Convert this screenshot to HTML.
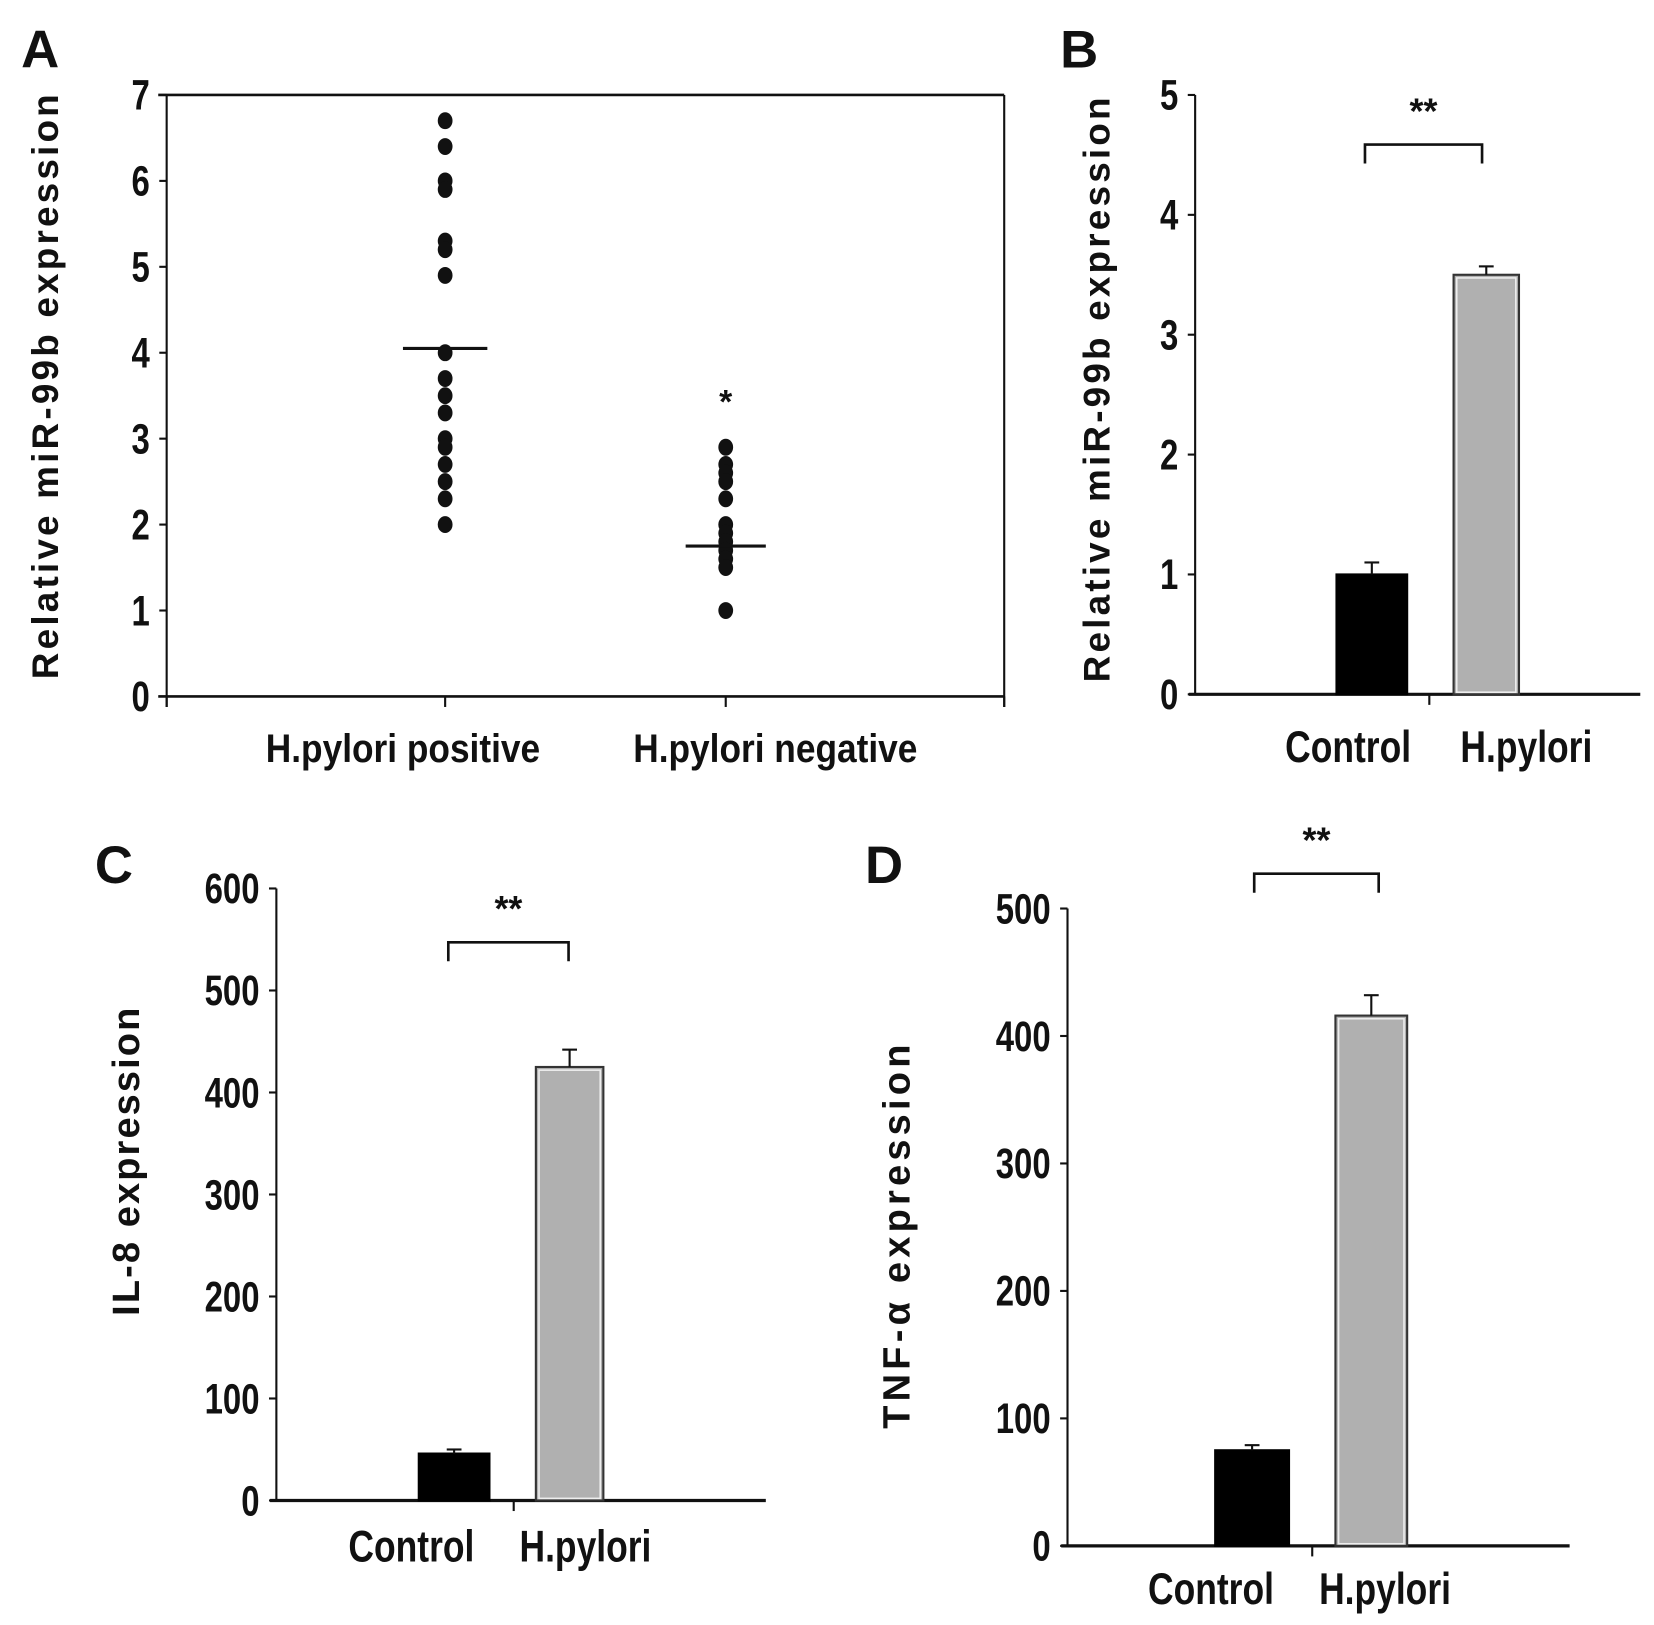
<!DOCTYPE html>
<html><head><meta charset="utf-8"><style>
html,body{margin:0;padding:0;background:#fff}
svg{display:block}
text{font-family:"Liberation Sans",sans-serif;font-weight:bold;fill:#111}
</style></head><body>
<svg id="fig" width="1654" height="1625" viewBox="0 0 1568 1540" preserveAspectRatio="none" xmlns="http://www.w3.org/2000/svg"></svg>
<script>
// Panel A data
const posVals=[6.7,6.4,6.0,5.9,5.3,5.2,4.9,4.0,3.7,3.5,3.3,3.0,2.9,2.7,2.5,2.3,2.0];
const negVals=[2.9,2.7,2.6,2.5,2.3,2.0,1.9,1.8,1.7,1.6,1.5,1.0];
const posMedian=4.05;
const negMedian=1.75;
const aTicks=[0,1,2,3,4,5,6,7];
const aCats=["H.pylori positive","H.pylori negative"];
// Panel B data
const bCats=["Control","H.pylori"];
const bVals=[1.0,3.5];
const bErr=[0.1,0.07];
const bTicks=[0,1,2,3,4,5];
// Panel C data
const cVals=[46,425];
const cErr=[4,17];
const cTicks=[0,100,200,300,400,500,600];
// Panel D data
const dVals=[75,416];
const dErr=[4,16];
const dTicks=[0,100,200,300,400,500];

const svg=document.getElementById('fig');
const NS='http://www.w3.org/2000/svg';
function el(tag,attrs,txt){const e=document.createElementNS(NS,tag);for(const k in attrs)e.setAttribute(k,attrs[k]);if(txt!=null)e.textContent=txt;svg.appendChild(e);return e;}
function line(x1,y1,x2,y2,w){return el('line',{x1,y1,x2,y2,stroke:'#111','stroke-width':w||2});}
function ctext(x,y,size,anchor,txt,sx){return el('text',{x:0,y:0,'font-size':size,'text-anchor':anchor,transform:`translate(${x},${y}) scale(${sx||0.78},1)`},txt);}

function panel(o){
  const y=v=>o.y0-(v-o.vmin)/(o.vmax-o.vmin)*(o.y0-o.ytop);
  const L=el('text',{x:o.lx,y:o.ly,'font-size':50},o.letter);
  
  
  const ya=line(o.x0,o.ytop,o.x0,o.y0+(o.box?10:0));
  
  
  const xa=line(o.x0-(o.box?8:6),o.y0,o.x1,o.y0,o.box?2.5:3);
  
  
  if(o.box){line(o.x0-8,o.ytop,o.x1,o.ytop,2.5);line(o.x1,o.ytop,o.x1,o.y0+10,2);}
  o.ticks.forEach(t=>{
    const yy=y(t);
    line(o.x0-7,yy,o.x0,yy,2);
    const tx=ctext(o.x0-16,yy+14,40,'end',String(t));
    
    
  });
  const yt=el('text',{x:0,y:0,'font-size':o.tfs,'text-anchor':'middle','letter-spacing':o.ls||2,transform:`translate(${o.tx},${o.ty}) rotate(-90)`},o.title);
  
  
  return y;
}

(function(){
  const o={letter:'A',lx:20,ly:64,x0:158,x1:952,y0:660,ytop:90,vmin:0,vmax:7,ticks:aTicks,box:true,title:'Relative miR-99b expression',tx:55,ty:365,tfs:35,ls:3};
  const y=panel(o);
  const cx=[422,688];
  [158,422,688,952].forEach(x=>line(x,660,x,670,2));
  aCats.forEach((c,i)=>{const t=ctext([382,735][i],722,38,'middle',c,0.88);
    
    });
  [posVals,negVals].forEach((arr,i)=>arr.forEach(v=>{
    const d=el('ellipse',{cx:cx[i],cy:y(v),rx:7,ry:8,fill:'#111'});
    
    
  }));
  const m1=line(382,y(posMedian),462,y(posMedian),3);
  
  
  const m2=line(650,y(negMedian),726,y(negMedian),3);
  
  
  const s=el('text',{x:688,y:y(3.3),'font-size':32,'text-anchor':'middle'},'*');
  
  
})();

function barPanel(o,vals,errs,cats){
  const y=panel(o);
  line(o.tick,o.y0,o.tick,o.y0+10,2);
  const cols=['#000','#b0b0b0'];
  vals.forEach((v,i)=>{
    const [xa,xb]=o.bars[i];
    const r=el('rect',{x:xa,y:y(v),width:xb-xa,height:o.y0-y(v),fill:cols[i],stroke:i?'#333':'#000','stroke-width':2});
    
    
    if(i){const w=el('rect',{x:xa+3,y:y(v)+3,width:xb-xa-6,height:o.y0-y(v)-5,fill:'none',stroke:'#eee','stroke-width':1.5});
      
      }
    const mx=(xa+xb)/2;
    const e=line(mx,y(v),mx,y(v+errs[i]),2);
    
    
    line(mx-7,y(v+errs[i]),mx+7,y(v+errs[i]),2);
    const t=ctext(o.labx[i],o.laby,42,'middle',cats[i],0.8);
    
    
  });
  const [bx1,bx2,by]=o.bracket;
  const p=el('path',{d:`M${bx1} ${by+18}V${by}H${bx2}V${by+18}`,fill:'none',stroke:'#111','stroke-width':2.5});
  
  
  const s=el('text',{x:(bx1+bx2)/2,y:by-20,'font-size':34,'text-anchor':'middle'},'**');
  
  
}

barPanel({letter:'B',lx:1005,ly:64,x0:1133,x1:1555,y0:658,ytop:90,vmin:0,vmax:5,ticks:bTicks,title:'Relative miR-99b expression',tx:1052,ty:368,tfs:35,ls:3,
  tick:1355,bars:[[1267,1334],[1378,1440]],labx:[1278,1447],laby:722,bracket:[1294,1405,137]},bVals,bErr,bCats);
barPanel({letter:'C',lx:90,ly:837,x0:262,x1:726,y0:1422,ytop:842,vmin:0,vmax:600,ticks:cTicks,title:'IL-8 expression',tx:132,ty:1100,tfs:36,ls:2,
  tick:487,bars:[[397,464],[508,572]],labx:[390,555],laby:1480,bracket:[425,539,893]},cVals,cErr,bCats);
barPanel({letter:'D',lx:820,ly:837,x0:1012,x1:1488,y0:1465,ytop:861,vmin:0,vmax:500,ticks:dTicks,title:'TNF-α expression',tx:862,ty:1170,tfs:36,ls:4,
  tick:1244,bars:[[1152,1222],[1266,1334]],labx:[1148,1313],laby:1520,bracket:[1189,1307,828]},dVals,dErr,bCats);
</script>
</body></html>
